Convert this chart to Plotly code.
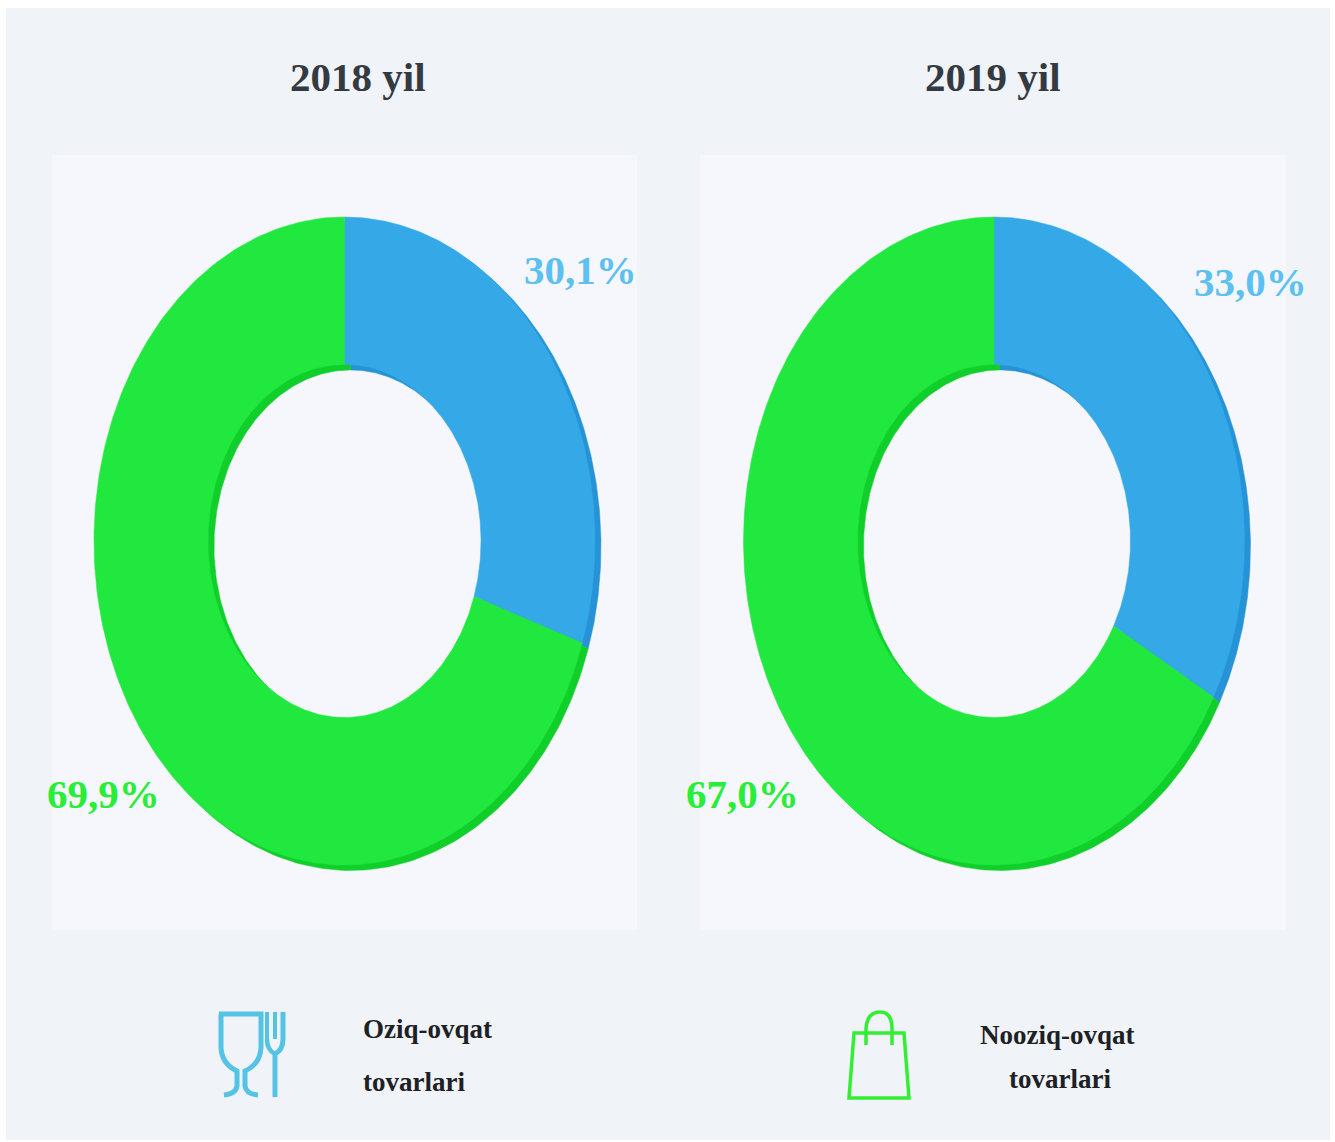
import numpy as np
import plotly.graph_objects as go

# ---- data ----
years = ["2018 yil", "2019 yil"]
categories = ["Oziq-ovqat tovarlari", "Nooziq-ovqat tovarlari"]
shares_2018 = [30.1, 69.9]
shares_2019 = [33.0, 67.0]
label_2018 = ["30,1%", "69,9%"]
label_2019 = ["33,0%", "67,0%"]

# ---- styling ----
W, H = 1335, 1142
OUTER_BG, PANEL_BG = "#f0f3f7", "#f6f7fc"
FACE = ["#35a9e8", "#20e83f"]
SHADE = ["#2593d6", "#10cf2b"]
LABEL = ["#5cc0f0", "#27ee37"]
TITLE = "#333a42"
FONT = "Liberation Serif"
HOLE = 0.545
RX, RY = 250.5, 324.0


def px(x):
    return x / W


def py(y):
    return 1 - y / H


def ring_sector(start, end, dx=0.0, dy=0.0):
    """Ring sector in unit coordinates, clockwise from 12 o'clock; start/end in percent."""
    t = np.radians(np.linspace(start, end, 240) * 3.6)
    xo, yo = np.sin(t), np.cos(t)
    x = np.concatenate([xo, HOLE * xo[::-1], xo[:1]]) + dx
    y = np.concatenate([yo, HOLE * yo[::-1], yo[:1]]) + dy
    return x, y


fig = go.Figure()
panels = [(52, 637, 344.5), (700, 1286, 994.0)]
CY, PANEL_TOP, PANEL_BOTTOM = 541.0, 155, 930
off_x, off_y = 6.0 / RX, 5.5 / RY

layout_axes = {}
for i, (shares, (x0, x1, cx)) in enumerate(zip([shares_2018, shares_2019], panels)):
    suffix = "" if i == 0 else "2"
    for layer, colors, dx, dy in [("shade", SHADE, off_x, -off_y), ("face", FACE, 0, 0)]:
        cum = 0.0
        for share, color, cat in zip(shares, colors, categories):
            xs, ys = ring_sector(cum, cum + share, dx, dy)
            cum += share
            fig.add_trace(go.Scatter(
                x=xs, y=ys, mode="lines", fill="toself", fillcolor=color,
                line=dict(color=color, width=0.5), name=cat, showlegend=False,
                hoverinfo="name",
                xaxis="x" + suffix, yaxis="y" + suffix))
    layout_axes["xaxis" + suffix] = dict(
        domain=[px(x0), px(x1)], range=[(x0 - cx) / RX, (x1 - cx) / RX],
        visible=False, fixedrange=True, anchor="y" + suffix)
    layout_axes["yaxis" + suffix] = dict(
        domain=[py(PANEL_BOTTOM), py(PANEL_TOP)],
        range=[(CY - PANEL_BOTTOM) / RY, (CY - PANEL_TOP) / RY],
        visible=False, fixedrange=True, anchor="x" + suffix)


def rect(x0, y0, x1, y1, color):
    return dict(type="rect", xref="paper", yref="paper", x0=px(x0), x1=px(x1),
                y0=py(y1), y1=py(y0), fillcolor=color, line=dict(width=0), layer="below")


def icon(points_path, color, width):
    out = []
    for tok in points_path:
        out.append(tok if isinstance(tok, str) else f"{px(tok[0]):.5f},{py(tok[1]):.5f}")
    return dict(type="path", xref="paper", yref="paper", path=" ".join(out),
                line=dict(color=color, width=width), layer="above")


GLASS = "#55c3e3"
BAG = "#33ee33"
shapes = [
    rect(6, 8, 1330, 1140, OUTER_BG),
    rect(panels[0][0], PANEL_TOP, panels[0][1], PANEL_BOTTOM, PANEL_BG),
    rect(panels[1][0], PANEL_TOP, panels[1][1], PANEL_BOTTOM, PANEL_BG),
    # wine glass
    icon(["M", (219, 1014), "L", (261, 1014), "L", (261, 1048), "Q", (260, 1064), (245, 1071),
          "L", (245, 1086), "Q", (246, 1094), (258, 1095)], GLASS, 5),
    icon(["M", (221, 1014), "L", (221, 1048), "Q", (222, 1064), (237, 1071),
          "L", (237, 1086), "Q", (236, 1094), (224, 1095)], GLASS, 5),
    # fork
    icon(["M", (267, 1012), "L", (267, 1039)], GLASS, 4),
    icon(["M", (275, 1012), "L", (275, 1039)], GLASS, 4),
    icon(["M", (283, 1012), "L", (283, 1039), "Q", (283, 1050), (275, 1054), "L", (275, 1097)], GLASS, 5),
    icon(["M", (267, 1039), "Q", (267, 1050), (275, 1054)], GLASS, 4.5),
    # bag
    icon(["M", (854, 1033), "L", (904, 1033), "L", (909, 1098), "L", (849, 1098), "Z"], BAG, 3.5),
    icon(["M", (866, 1045), "L", (866, 1029), "Q", (867, 1012), (880, 1012),
          "Q", (892, 1012), (892, 1029), "L", (892, 1045)], BAG, 3.5),
]


def text(s, x, y, size, color, anchor="center"):
    return dict(text=s, x=px(x), y=py(y), xref="paper", yref="paper", showarrow=False,
                xanchor=anchor, yanchor="middle",
                font=dict(family=FONT, size=size, color=color))


def bold(s):
    return f"<b>{s}</b>"


annotations = [
    text(bold(years[0]), 358, 77, 41, TITLE),
    text(bold(years[1]), 993, 77, 41, TITLE),
    text(bold(label_2018[0]), 580, 270, 41, LABEL[0]),
    text(bold(label_2019[0]), 1250, 282, 41, LABEL[0]),
    text(bold(label_2018[1]), 103, 794, 41, LABEL[1]),
    text(bold(label_2019[1]), 742, 794, 41, LABEL[1]),
]
cat_a, cat_b = categories[0].split(" "), categories[1].split(" ")
annotations += [
    text(bold(cat_a[0]), 361, 1029, 27, "#1d2125", "left"),
    text(bold(cat_a[1]), 361, 1082, 27, "#1d2125", "left"),
    text(bold(cat_b[0]), 1057, 1035, 27, "#1d2125"),
    text(bold(cat_b[1]), 1060, 1079, 27, "#1d2125"),
]

fig.update_layout(
    width=W, height=H, autosize=False,
    margin=dict(l=0, r=0, t=0, b=0),
    paper_bgcolor="#ffffff", plot_bgcolor="rgba(0,0,0,0)",
    showlegend=False, shapes=shapes, annotations=annotations,
    **layout_axes,
)
fig.write_html("out.html", config={"displayModeBar": False},
               post_script="document.body.style.margin='0';document.documentElement.style.overflow='hidden';")
